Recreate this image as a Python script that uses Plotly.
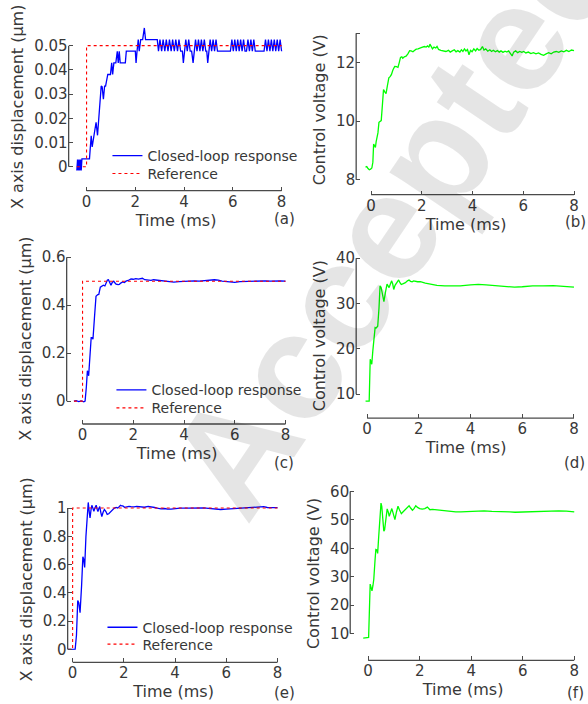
import plotly.graph_objects as go

W, H = 588, 704

# ---------------- data ----------------
# (a) 0.05 um step
t_a = [-0.40, -0.37, -0.34, -0.31, -0.28, -0.25, -0.22, -0.19, 0.12, 0.19, 0.23, 0.31, 0.39, 0.45,
       0.53, 0.60, 0.64, 0.69, 0.74, 0.78, 0.87, 0.98, 1.03, 1.07, 1.12, 1.20, 1.26, 1.30, 1.34, 1.38,
       1.59, 1.63, 2.00, 2.03, 2.07, 2.12, 2.16, 2.22, 2.30, 2.37, 2.42, 2.90,
       2.95, 3.01, 3.08, 3.14, 3.21, 3.27, 3.34, 3.40, 3.47, 3.53, 3.60, 3.66, 3.73, 3.79, 3.86,
       3.93, 3.97, 4.01, 4.07, 4.13, 4.19, 4.25, 4.31, 4.37, 4.41, 4.47, 4.53, 4.59, 4.65, 4.71,
       4.77, 4.83, 4.89, 4.93, 4.97, 5.01, 5.07, 5.13, 5.19, 5.25, 5.31, 5.37, 5.43, 5.90, 5.96,
       6.02, 6.08, 6.14, 6.20, 6.26, 6.32, 6.38, 6.44, 6.50, 6.56, 6.62, 6.68, 6.74, 6.80, 6.86,
       6.92, 7.28, 7.34, 7.40, 7.46, 7.52, 7.58, 7.64, 7.70, 7.76, 7.82, 7.88, 7.94, 8.00]
x_a = [-0.0015, 0.0030, -0.0015, 0.0030, -0.0015, 0.0030, -0.0015, 0.0033, 0.0033, 0.0128, 0.0082,
       0.0141, 0.0184, 0.0130, 0.0260, 0.0333, 0.0330, 0.0279, 0.0333, 0.0333, 0.0381, 0.0381,
       0.0429, 0.0381, 0.0429, 0.0429, 0.0477, 0.0429, 0.0477, 0.0429, 0.0429, 0.0477, 0.0477,
       0.0429, 0.0477, 0.0525, 0.0477, 0.0525, 0.0525, 0.0573, 0.0525, 0.0525,
       0.0477, 0.0525, 0.0477, 0.0525, 0.0477, 0.0525, 0.0477, 0.0525, 0.0477, 0.0525, 0.0477,
       0.0525, 0.0477, 0.0525, 0.0477, 0.0477, 0.0429, 0.0477, 0.0525, 0.0477, 0.0525, 0.0477,
       0.0477, 0.0429, 0.0477, 0.0525, 0.0477, 0.0525, 0.0477, 0.0525, 0.0477, 0.0525, 0.0477,
       0.0477, 0.0429, 0.0477, 0.0525, 0.0477, 0.0525, 0.0477, 0.0525, 0.0477, 0.0477, 0.0477,
       0.0525, 0.0477, 0.0525, 0.0477, 0.0525, 0.0477, 0.0525, 0.0477, 0.0525, 0.0477, 0.0477,
       0.0525, 0.0477, 0.0525, 0.0477, 0.0525, 0.0477, 0.0477, 0.0525, 0.0477, 0.0525, 0.0477,
       0.0525, 0.0477, 0.0525, 0.0477, 0.0525, 0.0477, 0.0525, 0.0477]
ref_t_a = [-0.40, 0.0, 0.0, 8.0]
ref_a = [0.0, 0.0, 0.05, 0.05]

# (b) control voltage for 0.05 um step
t_b = [-0.22, -0.17, -0.12, -0.07, -0.02, 0.03, 0.07, 0.10, 0.14, 0.17, 0.20, 0.23, 0.27, 0.31,
       0.36, 0.40, 0.45, 0.49, 0.54, 0.59, 0.64, 0.70, 0.75, 0.80, 0.86, 0.93, 1.00, 1.06, 1.11,
       1.16, 1.21, 1.25, 1.31, 1.38, 1.45, 1.52, 1.58, 1.65, 1.72, 1.78, 1.85, 1.91, 2.00, 2.10,
       2.17, 2.23, 2.28, 2.32, 2.37, 2.42, 2.48, 2.55, 2.60, 2.66, 2.75,
       2.85, 2.95, 3.05, 3.12, 3.20, 3.28, 3.35, 3.42, 3.50, 3.56, 3.62, 3.68, 3.74, 3.80, 3.86,
       3.92, 3.98, 4.05, 4.12, 4.18, 4.25, 4.32, 4.39, 4.45, 4.52, 4.60, 4.68, 4.75, 4.82, 4.90,
       4.98, 5.05, 5.12, 5.20, 5.28, 5.35, 5.42, 5.50, 5.56, 5.62, 5.70, 5.78, 5.86, 5.94, 6.02,
       6.10, 6.20, 6.30, 6.40, 6.50, 6.60, 6.70, 6.80, 6.90, 7.00, 7.10, 7.20, 7.30, 7.40, 7.50,
       7.60, 7.70, 7.80, 7.90, 8.00]
u_b = [8.43, 8.45, 8.38, 8.34, 8.36, 8.40, 8.60, 9.22, 9.15, 9.10, 9.30, 9.39, 9.60, 9.96,
       10.00, 10.02, 10.60, 11.08, 11.00, 10.94, 11.20, 11.48, 11.52, 11.59, 11.75, 11.87, 11.86,
       11.84, 12.00, 12.18, 12.20, 12.15, 12.20, 12.22, 12.30, 12.41, 12.40, 12.37, 12.42, 12.46,
       12.47, 12.50, 12.52, 12.55, 12.53, 12.57, 12.52, 12.63, 12.55, 12.47, 12.53, 12.50, 12.55,
       12.45, 12.42,
       12.40, 12.38, 12.42, 12.36, 12.40, 12.44, 12.37, 12.41, 12.36, 12.44, 12.38, 12.47, 12.40,
       12.45, 12.27, 12.42, 12.37, 12.47, 12.40, 12.48, 12.42, 12.45, 12.55, 12.43, 12.47, 12.39,
       12.44, 12.38, 12.42, 12.37, 12.41, 12.36, 12.40, 12.35, 12.39, 12.36, 12.40, 12.32, 12.23,
       12.36, 12.40, 12.34, 12.38, 12.35, 12.38, 12.33, 12.36, 12.31, 12.34, 12.30, 12.33, 12.28,
       12.25, 12.30, 12.34, 12.30, 12.36, 12.38, 12.35, 12.40, 12.37, 12.42, 12.38, 12.43, 12.41]

# (c) 0.5 um step
t_c = [-0.34, -0.25, -0.15, -0.05, 0.05, 0.10, 0.15, 0.19, 0.24, 0.29, 0.34, 0.37, 0.41, 0.47,
       0.53, 0.60, 0.64, 0.70, 0.76, 0.82, 0.88, 0.93, 0.98, 1.02, 1.07, 1.12, 1.17, 1.23, 1.28,
       1.32, 1.40, 1.45, 1.52, 1.58, 1.65, 1.71, 1.80, 1.91, 2.00, 2.10, 2.20, 2.30, 2.36, 2.45,
       2.56, 2.70, 2.80, 2.95, 3.10, 3.20, 3.35, 3.50, 3.60, 3.80, 4.00, 4.20, 4.40, 4.60, 4.80,
       5.00, 5.20, 5.35, 5.50, 5.70, 5.90, 6.00, 6.20, 6.40, 6.60, 6.80, 7.00, 7.20, 7.40, 7.60,
       7.80, 8.00]
x_c = [0.000, 0.002, -0.002, 0.001, -0.003, 0.000, 0.060, 0.127, 0.106, 0.200, 0.265, 0.265,
       0.258, 0.350, 0.437, 0.444, 0.445, 0.475, 0.479, 0.483, 0.480, 0.490, 0.505, 0.506, 0.490,
       0.483, 0.495, 0.500, 0.492, 0.488, 0.486, 0.487, 0.493, 0.497, 0.494, 0.500, 0.503, 0.509,
       0.508, 0.511, 0.509, 0.512, 0.512, 0.506, 0.505, 0.503, 0.506, 0.504, 0.501, 0.500, 0.498,
       0.497, 0.496, 0.498, 0.500, 0.499, 0.501, 0.500, 0.502, 0.503, 0.506, 0.504, 0.500, 0.498,
       0.497, 0.495, 0.498, 0.499, 0.500, 0.501, 0.503, 0.501, 0.500, 0.502, 0.501, 0.500]
ref_t_c = [-0.34, 0.0, 0.0, 8.0]
ref_c = [0.0, 0.0, 0.5, 0.5]

# (d) control voltage for 0.5 um step
t_d = [-0.06, 0.00, 0.08, 0.12, 0.15, 0.18, 0.22, 0.27, 0.31, 0.35, 0.38, 0.41, 0.46, 0.50,
       0.54, 0.60, 0.65, 0.71, 0.77, 0.81, 0.85, 0.90, 0.95, 0.99, 1.03, 1.08, 1.13, 1.17, 1.22,
       1.27, 1.32, 1.40, 1.48, 1.56, 1.62, 1.68, 1.74, 1.80, 1.87, 1.95, 2.06, 2.15, 2.25, 2.35,
       2.50, 2.70, 3.00, 3.30, 3.60, 4.00, 4.30, 4.60, 5.00, 5.30, 5.70, 6.00, 6.40, 6.80, 7.20,
       7.60, 8.00]
u_d = [8.47, 8.47, 8.50, 17.7, 16.9, 16.6, 19.5, 22.5, 24.7, 24.6, 24.8, 25.0, 29.0, 33.9, 33.6,
       31.8, 30.4, 32.5, 34.3, 33.9, 33.5, 34.3, 35.0, 34.3, 33.1, 34.0, 34.5, 34.8, 35.2, 34.6,
       34.2, 34.4, 34.6, 35.0, 35.2, 34.9, 34.8, 35.0, 34.9, 34.8, 34.8, 34.6, 34.5, 34.4, 34.2,
       34.0, 33.9, 33.85, 33.9, 34.1, 34.2, 34.1, 33.95, 33.8, 33.6, 33.7, 33.9, 33.9, 33.95,
       33.8, 33.6]

# (e) 1 um step
t_e = [-0.18, -0.10, 0.00, 0.10, 0.15, 0.20, 0.24, 0.29, 0.35, 0.40, 0.43, 0.47, 0.52, 0.57,
       0.61, 0.65, 0.68, 0.72, 0.75, 0.79, 0.83, 0.87, 0.92, 0.96, 0.99, 1.02, 1.06, 1.10, 1.14,
       1.19, 1.24, 1.30, 1.35, 1.41, 1.48, 1.55, 1.63, 1.70, 1.76, 1.82, 1.87, 1.92, 1.96, 2.03,
       2.09, 2.20, 2.28, 2.40, 2.50, 2.67, 2.80, 2.95, 3.06, 3.20, 3.30, 3.45, 3.60, 3.70, 3.84,
       4.00, 4.20, 4.49, 4.70, 4.90, 5.13, 5.30, 5.50, 5.78, 6.00, 6.20, 6.43, 6.70, 7.00, 7.20,
       7.46, 7.60, 7.80, 8.00]
x_e = [0.000, 0.002, 0.000, 0.002, 0.100, 0.345, 0.330, 0.260, 0.450, 0.655, 0.640, 0.580,
       0.800, 0.980, 1.040, 0.970, 0.930, 0.990, 1.020, 1.000, 0.977, 1.000, 1.020, 0.990, 0.975,
       0.995, 1.010, 0.970, 0.940, 0.970, 0.990, 0.975, 0.955, 0.960, 0.975, 0.985, 1.000, 1.005,
       1.000, 1.010, 1.020, 1.015, 1.015, 1.005, 1.008, 1.012, 1.010, 1.008, 1.012, 1.010, 1.006,
       1.012, 1.010, 1.004, 1.000, 0.995, 0.997, 0.993, 0.993, 0.996, 0.999, 1.000, 1.002, 1.000,
       1.001, 0.998, 0.994, 0.990, 0.993, 0.996, 0.998, 1.000, 1.004, 1.006, 1.010, 1.004, 1.002,
       1.003]
ref_t_e = [-0.18, 0.0, 0.0, 8.0]
ref_e = [0.0, 0.0, 1.0, 1.0]

# (f) control voltage for 1 um step
t_f = [-0.19, -0.05, 0.02, 0.08, 0.12, 0.15, 0.19, 0.22, 0.27, 0.30, 0.34, 0.37, 0.41, 0.46,
       0.50, 0.53, 0.57, 0.61, 0.64, 0.69, 0.74, 0.78, 0.82, 0.87, 0.92, 0.97, 1.04, 1.10, 1.16,
       1.22, 1.29, 1.35, 1.42, 1.50, 1.59, 1.65, 1.72, 1.78, 1.85, 1.92, 2.00, 2.10, 2.20, 2.30,
       2.36, 2.40, 2.50, 2.66, 2.85, 3.05, 3.20, 3.40, 3.60, 3.80, 4.00, 4.20, 4.50, 4.80, 4.95,
       5.20, 5.50, 5.70, 6.00, 6.30, 6.60, 7.00, 7.40, 7.70, 8.00]
u_f = [8.4, 8.4, 8.6, 27.4, 26.0, 25.0, 27.0, 29.1, 36.0, 39.6, 39.4, 38.2, 44.0, 52.0, 55.9,
       54.8, 50.0, 46.0, 46.5, 51.5, 53.9, 52.8, 51.3, 52.6, 54.0, 52.4, 50.1, 52.8, 54.8, 53.5,
       52.2, 52.8, 53.4, 54.3, 55.0, 54.2, 53.4, 54.0, 55.0, 54.4, 54.0, 53.8, 54.0, 54.5, 53.8,
       53.6, 53.7, 53.5, 53.3, 53.1, 52.95, 52.8, 52.8, 52.9, 53.0, 53.2, 53.2, 53.0, 53.0, 52.9,
       52.8, 52.7, 52.8, 52.9, 53.0, 53.1, 53.2, 53.1, 52.8]

x_ticks = [0, 2, 4, 6, 8]
y_ticks_a = [0, 0.01, 0.02, 0.03, 0.04, 0.05]
y_labels_a = ["0", "0.01", "0.02", "0.03", "0.04", "0.05"]
y_ticks_b = [8, 10, 12, 13]
y_labels_b = ["8", "10", "12", ""]
y_ticks_c = [0, 0.2, 0.4, 0.6]
y_labels_c = ["0", "0.2", "0.4", "0.6"]
y_ticks_d = [10, 20, 30, 40]
y_labels_d = ["10", "20", "30", "40"]
y_ticks_e = [0, 0.2, 0.4, 0.6, 0.8, 1]
y_labels_e = ["0", "0.2", "0.4", "0.6", "0.8", "1"]
y_ticks_f = [10, 20, 30, 40, 50, 60]
y_labels_f = ["10", "20", "30", "40", "50", "60"]

panel_letters = ["(a)", "(b)", "(c)", "(d)", "(e)", "(f)"]
x_title = "Time (ms)"
y_title_disp = "X axis displacement (µm)"
y_title_volt = "Control voltage (V)"
legend_names = ["Closed-loop response", "Reference"]
watermark = "Accepted"

# ---------------- layout geometry (pixels) ----------------
boxes = [
    dict(l=69, r=285, t=18, b=187, xr=[-0.735, 8.08], yr=[-0.00984, 0.0594]),
    dict(l=358, r=579, t=20, b=191, xr=[-0.588, 8.08], yr=[7.49, 13.29]),
    dict(l=67, r=289, t=250, b=422, xr=[-0.627, 8.08], yr=[-0.0952, 0.6165]),
    dict(l=358, r=579, t=250, b=416, xr=[-0.423, 8.08], yr=[4.745, 41.09]),
    dict(l=68, r=281, t=495, b=662, xr=[-0.194, 8.08], yr=[-0.0914, 1.082]),
    dict(l=352, r=579, t=485, b=660, xr=[-0.695, 8.07], yr=[0.56, 61.75]),
]
label_pos = [(286, 216), (578, 219), (285, 461), (577, 461), (286, 693), (578, 693)]
legend_pos = [[(148, 154), (148, 172)], [(152, 390), (152, 408)], [(143, 629), (143, 646)]]

TXT = "#383838"
AX = "#4a4a4a"
FONT = "DejaVu Sans"
BLUE = "#0000ff"
RED = "#ff0000"
GREEN = "#00ff00"

fig = go.Figure()

def ax(i):
    return ("x", "y") if i == 0 else (f"x{i+1}", f"y{i+1}")

series = [
    ("disp", t_a, x_a, ref_t_a, ref_a),
    ("volt", t_b, u_b, None, None),
    ("disp", t_c, x_c, ref_t_c, ref_c),
    ("volt", t_d, u_d, None, None),
    ("disp", t_e, x_e, ref_t_e, ref_e),
    ("volt", t_f, u_f, None, None),
]

legend_ids = ["legend", "legend2", "legend3", "legend4", "legend5", "legend6"]
li = 0
for i, (kind, tt, vv, rt, rv) in enumerate(series):
    xa, ya = ax(i)
    if kind == "disp":
        fig.add_trace(go.Scatter(x=tt, y=vv, mode="lines", xaxis=xa, yaxis=ya,
                                 line=dict(color=BLUE, width=1.3), name=legend_names[0],
                                 legend=legend_ids[li], showlegend=True))
        fig.add_trace(go.Scatter(x=rt, y=rv, mode="lines", xaxis=xa, yaxis=ya,
                                 line=dict(color=RED, width=1.1, dash="dot"), name=legend_names[1],
                                 legend=legend_ids[li + 1], showlegend=True))
        li += 2
    else:
        fig.add_trace(go.Scatter(x=tt, y=vv, mode="lines", xaxis=xa, yaxis=ya,
                                 line=dict(color=GREEN, width=1.3), showlegend=False))

ytick_sets = [(y_ticks_a, y_labels_a), (y_ticks_b, y_labels_b), (y_ticks_c, y_labels_c),
              (y_ticks_d, y_labels_d), (y_ticks_e, y_labels_e), (y_ticks_f, y_labels_f)]

layout = dict(width=W, height=H, margin=dict(l=0, r=0, t=0, b=0),
              paper_bgcolor="white", plot_bgcolor="rgba(0,0,0,0)",
              font=dict(family=FONT, color=TXT, size=15))
shapes = []
annotations = []
for i, bx in enumerate(boxes):
    xa, ya = ax(i)
    xkey = "xaxis" if i == 0 else f"xaxis{i+1}"
    ykey = "yaxis" if i == 0 else f"yaxis{i+1}"
    yt, yl = ytick_sets[i]
    layout[xkey] = dict(domain=[bx["l"] / W, bx["r"] / W], range=bx["xr"], anchor=ya,
                        showline=False, zeroline=False, showgrid=False,
                        ticks="inside", ticklen=4, tickwidth=1.2, tickcolor=AX,
                        tickvals=x_ticks, ticktext=[str(v) for v in x_ticks],
                        tickfont=dict(size=15, color=TXT),
                        title=dict(text=x_title, font=dict(size=16, color=TXT), standoff=4))
    layout[ykey] = dict(domain=[1 - bx["b"] / H, 1 - bx["t"] / H], range=bx["yr"], anchor=xa,
                        showline=False, zeroline=False, showgrid=False,
                        ticks="inside", ticklen=4, tickwidth=1.2, tickcolor=AX,
                        tickvals=yt, ticktext=yl,
                        tickfont=dict(size=15, color=TXT),
                        title=dict(text=y_title_disp if i % 2 == 0 else y_title_volt,
                                   font=dict(size=16, color=TXT), standoff=6))
    shapes.append(dict(type="line", xref=xa, yref=f"{ya} domain", x0=x_ticks[0], x1=x_ticks[-1],
                       y0=0, y1=0, line=dict(color=AX, width=1.3)))
    shapes.append(dict(type="line", xref=f"{xa} domain", yref=ya, x0=0, x1=0,
                       y0=yt[0], y1=yt[-1], line=dict(color=AX, width=1.3)))
    lx, ly = label_pos[i]
    annotations.append(dict(text=panel_letters[i], x=lx / W, y=1 - ly / H, xref="paper",
                            yref="paper", showarrow=False, xanchor="center", yanchor="middle",
                            font=dict(size=15, color=TXT)))

# watermark
annotations.append(dict(text=watermark, x=396 / W, y=1 - 210 / H, xref="paper", yref="paper",
                        showarrow=False, textangle=-56, xanchor="center", yanchor="middle",
                        font=dict(size=152, color="rgba(0,0,0,0.10)", family="Liberation Sans",
                                  weight="bold")))

leg_common = dict(xanchor="left", yanchor="top", bgcolor="rgba(0,0,0,0)",
                  font=dict(size=14, color=TXT), tracegroupgap=0, itemwidth=30)
k = 0
for pair in legend_pos:
    for (tx, cy) in pair:
        key = legend_ids[k]
        layout[key] = dict(x=(tx - 40) / W, y=1 - (cy - 18) / H, **leg_common)
        k += 1
layout["shapes"] = shapes
layout["annotations"] = annotations
fig.update_layout(**layout)

fig.write_html("out.html")
